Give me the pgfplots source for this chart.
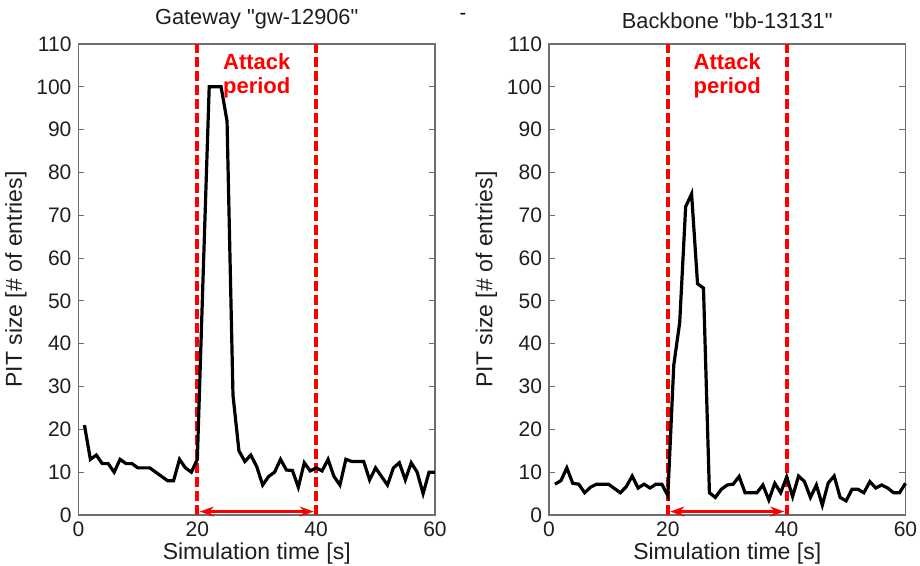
\documentclass[border=0pt]{standalone}
\usepackage{fontspec}
\setmainfont{Liberation Sans}
\usepackage{pgfplots}
\pgfplotsset{compat=1.18}
\usetikzlibrary{arrows.meta}

\definecolor{attackred}{RGB}{255,0,0}
\definecolor{boxgray}{RGB}{110,110,110}
\definecolor{txt}{RGB}{30,30,30}

% straight double quote, bypassing the tex-text mapping
\newcommand{\dq}{\XeTeXglyph\XeTeXglyphindex "quotedbl"\relax}

\pgfplotsset{
  pitstyle/.style={
    scale only axis,
    width=178.25pt, height=235.5pt,
    xmin=0, xmax=60, ymin=0, ymax=110,
    xtick={0,20,40,60},
    ytick={0,10,...,110},
    tick align=inside,
    major tick length=3pt,
    axis line style={boxgray, line width=0.6pt},
    every tick/.style={boxgray, line width=0.5pt},
    /pgf/number format/assume math mode=true,
    tick label style={font=\fontsize{10.5}{12}\selectfont, text=txt},
    xlabel={Simulation time [s]},
    ylabel={PIT size [\# of entries]},
    label style={font=\fontsize{11.5}{13}\selectfont, text=txt},
    title style={font=\fontsize{10.9}{12}\selectfont, text=txt, yshift=-2pt},
    xlabel style={yshift=4pt},
    ylabel style={yshift=-2pt},
    clip=false,
  },
  attack/.style={attackred, line width=2pt, dash pattern=on 5pt off 2pt},
  trace/.style={black, line width=1.6pt, line join=miter},
  span/.style={attackred, line width=1.1pt, {Stealth[length=7pt,width=5pt]}-{Stealth[length=7pt,width=5pt]}},
}

\begin{document}
\begin{tikzpicture}
\useasboundingbox (-39.25pt,-25.5pt) rectangle (420.75pt,257.5pt);

% left: gateway
\begin{axis}[pitstyle, title={Gateway \dq gw-12906\dq}]
\addplot[attack] coordinates {(20,0) (20,110)};
\addplot[attack] coordinates {(40,0) (40,110)};
\addplot[span] coordinates {(20.4,0.8) (39.6,0.8)};
\addplot[trace] coordinates {
(1,21) (2,13) (3,14) (4,12) (5,12) (6,10) (7,13) (8,12) (9,12) (10,11)
(11,11) (12,11) (13,10) (14,9) (15,8) (16,8) (17,13) (18,11) (19,10) (20,13)
(21,57) (22,100) (23,100) (24,100) (25,92) (26,28) (27,15) (28,12.5) (29,14) (30,11.3)
(31,7) (32,9) (33,10) (34,13) (35,10.5) (36,10.4) (37,6.5) (38,12.2) (39,10.3) (40,11)
(41,10.3) (42,13) (43,9) (44,7) (45,13) (46,12.5) (47,12.5) (48,12.5) (49,8.2) (50,11)
(51,9) (52,7) (53,11) (54,12.2) (55,8.2) (56,12.2) (57,10) (58,5) (59,10) (60,10)
};
\node[attackred, font=\bfseries\fontsize{11}{11.8}\selectfont, align=center] at (axis cs:30,102.5) {Attack\\period};
\end{axis}

% right: backbone
\begin{axis}[pitstyle, xshift=235.25pt, title={Backbone \dq bb-13131\dq}]
\addplot[attack] coordinates {(20,0) (20,110)};
\addplot[attack] coordinates {(40,0) (40,110)};
\addplot[span] coordinates {(20.4,0.8) (39.6,0.8)};
\addplot[trace] coordinates {
(1,7.2) (2,8) (3,11) (4,7.4) (5,7.2) (6,5.2) (7,6.5) (8,7.2) (9,7.2) (10,7.2)
(11,6.2) (12,5.2) (13,6.6) (14,9.1) (15,6.3) (16,7.2) (17,6.3) (18,7.2) (19,7.2) (20,4.5)
(21,35) (22,45) (23,72) (24,75) (25,54) (26,53) (27,5.2) (28,4.1) (29,6) (30,7)
(31,7.2) (32,9) (33,5.2) (34,5.2) (35,5.2) (36,7) (37,3.5) (38,7.4) (39,5.2) (40,8.9)
(41,4.3) (42,9.1) (43,7.8) (44,4.1) (45,7) (46,2.3) (47,7.5) (48,9.1) (49,4.1) (50,3.3)
(51,6) (52,6) (53,5.2) (54,7.8) (55,6.3) (56,7) (57,6.3) (58,5.2) (59,5.2) (60,7.4)
};
\node[attackred, font=\bfseries\fontsize{11}{11.8}\selectfont, align=center] at (axis cs:30,102.5) {Attack\\period};
\node[font=\fontsize{10}{12}\selectfont] at (axis cs:-14.5,116.5) {-};
\end{axis}
\end{tikzpicture}
\end{document}
